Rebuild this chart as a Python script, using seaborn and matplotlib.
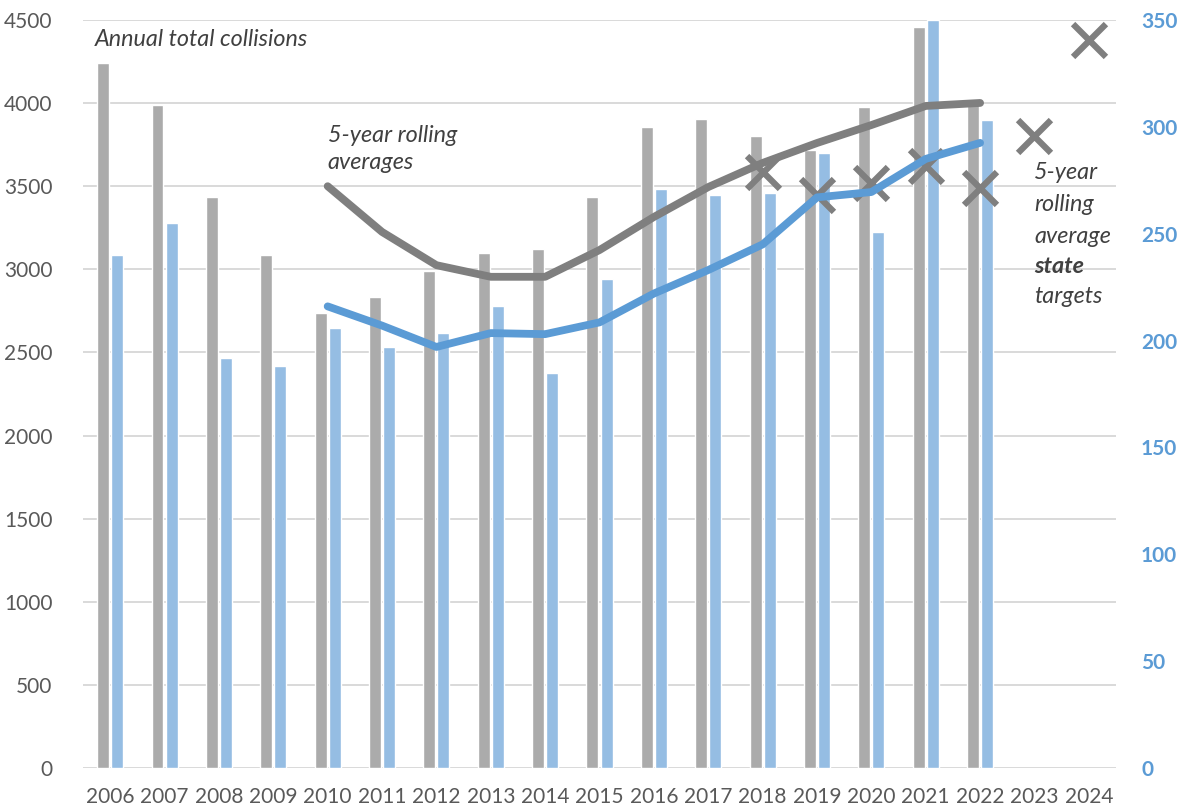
import matplotlib
matplotlib.use("Agg")
import matplotlib.pyplot as plt
import seaborn as sns

# ---- data -------------------------------------------------------------
years = list(range(2006, 2025))
collision_years = list(range(2006, 2023))
total_collisions = [4240, 3990, 3435, 3085, 2737, 2834, 2990, 3100, 3120,
                    3435, 3856, 3904, 3802, 3715, 3977, 4458, 4000]
serious_collisions = [240, 255, 192, 188, 206, 197, 203.5, 216, 185,
                      229, 271, 268, 269, 288, 251, 350, 303]

avg_years = list(range(2010, 2023))
total_rolling_avg = [3500, 3225, 3025, 2955, 2955, 3116, 3315, 3495,
                     3640, 3760, 3868, 3983, 4001]
serious_rolling_avg = [216, 207, 197, 203.5, 203, 208.5, 222, 233,
                       245, 267, 269.5, 285, 292.5]

target_years = list(range(2018, 2025))
state_targets = [3586, 3445, 3519, 3622, 3489, 3802, 4380]

left_ticks = list(range(0, 4501, 500))
right_ticks = list(range(0, 351, 50))

# ---- style ------------------------------------------------------------
sns.set_theme(style="white")
plt.rcParams["font.family"] = ["Lato", "DejaVu Sans"]

GRAY_BAR = "#ABABAB"
BLUE_BAR = "#95BDE3"
GRAY_LINE = "#7F7F7F"
BLUE_LINE = "#5B9BD5"
TEXT = "#595959"
NOTE = "#404040"
NOTE_SIZE = 16.8
TICK_SIZE = 15

fig = plt.figure(figsize=(11.84, 8.10), dpi=100)
ax = fig.add_axes([0.0701, 0.0519, 0.8725, 0.9234])
ax_blue = ax.twinx()      # right scale: bars
ax_line = ax.twinx()      # left scale: rolling average + targets
ax_bline = ax.twinx()     # right scale: rolling average line

offset = 0.13
width = 0.22

sns.barplot(x=[y - offset for y in collision_years], y=total_collisions,
            native_scale=True, width=width, color=GRAY_BAR, saturation=1,
            ax=ax, zorder=2)
sns.barplot(x=[y + offset for y in collision_years], y=serious_collisions,
            native_scale=True, width=width, color=BLUE_BAR, saturation=1,
            ax=ax_blue, zorder=2)

sns.lineplot(x=avg_years, y=total_rolling_avg, color=GRAY_LINE, lw=5.6,
             solid_capstyle="round", solid_joinstyle="round", ax=ax_line)
sns.scatterplot(x=target_years, y=state_targets, marker="x", s=560,
                linewidth=4.5, color=GRAY_LINE, ax=ax_line, zorder=3)
sns.lineplot(x=avg_years, y=serious_rolling_avg, color=BLUE_LINE, lw=5.6,
             solid_capstyle="round", solid_joinstyle="round", ax=ax_bline)

# ---- axes -------------------------------------------------------------
for a in (ax, ax_line):
    a.set_ylim(0, 4500)
for a in (ax_blue, ax_bline):
    a.set_ylim(0, 350)
for a in (ax, ax_blue, ax_line, ax_bline):
    a.set_xlim(2005.5, 2024.5)
    a.set_xlabel("")
    a.set_ylabel("")
    for s in a.spines.values():
        s.set_visible(False)
    a.grid(False)

ax.set_yticks(left_ticks)
ax.set_yticklabels([str(v) for v in left_ticks])
ax.yaxis.grid(True, color="#D9D9D9", lw=1.4)
ax.set_axisbelow(True)
ax.tick_params(axis="y", length=0, pad=22, labelsize=TICK_SIZE,
               labelcolor=TEXT)
ax.set_xticks(years)
ax.set_xticklabels([str(y) for y in years])
ax.tick_params(axis="x", length=0, pad=14, labelsize=TICK_SIZE,
               labelcolor=TEXT)

ax_blue.set_yticks(right_ticks)
ax_blue.set_yticklabels([str(v) for v in right_ticks], fontweight="bold")
ax_blue.tick_params(axis="y", length=0, pad=18, labelsize=TICK_SIZE,
                    labelcolor=BLUE_LINE)
ax_blue.tick_params(axis="x", length=0, labelbottom=False)

for a in (ax_line, ax_bline):
    a.set_yticks([])
    a.tick_params(axis="x", length=0, labelbottom=False)
    a.patch.set_visible(False)
ax_blue.patch.set_visible(False)

# ---- annotations ------------------------------------------------------
ax_line.text(2005.72, 4380, "Annual total collisions", style="italic",
             fontsize=NOTE_SIZE, color=NOTE, va="center", ha="left")
ax_line.text(2010.0, 3808, "5-year rolling", style="italic",
             fontsize=NOTE_SIZE, color=NOTE, va="center", ha="left")
ax_line.text(2010.0, 3640, "averages", style="italic",
             fontsize=NOTE_SIZE, color=NOTE, va="center", ha="left")

note_lines = [("5-year", 3580, "normal"), ("rolling", 3393, "normal"),
              ("average", 3200, "normal"), ("state", 3014, "bold"),
              ("targets", 2834, "normal")]
for txt, yv, wt in note_lines:
    ax_line.text(2022.99, yv, txt, style="italic", fontweight=wt,
                 fontsize=NOTE_SIZE, color=NOTE, va="center", ha="left")

fig.savefig("out.png", dpi=100)
